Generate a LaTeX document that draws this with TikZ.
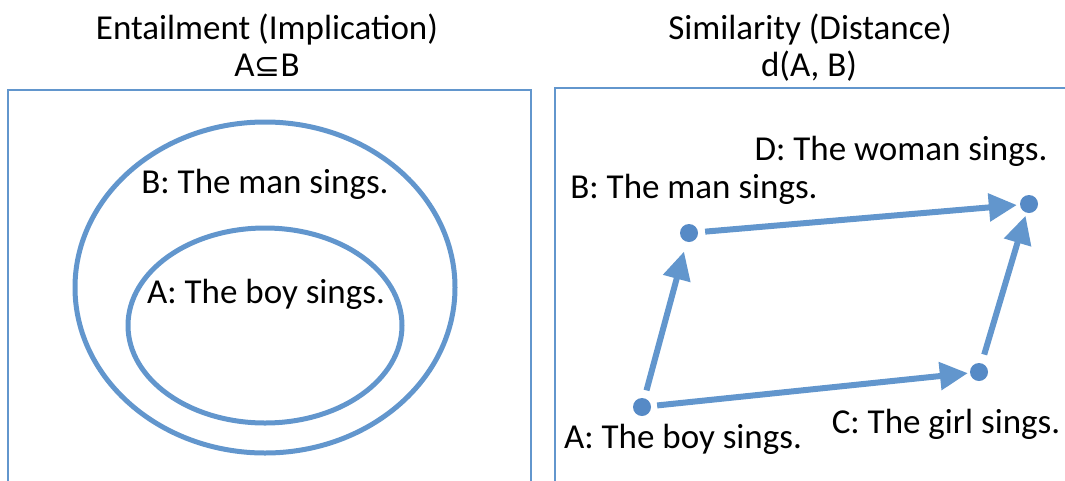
\documentclass[tikz,border=0pt]{standalone}
\usepackage{fontspec}
\setmainfont{Carlito}
\newfontfamily\dejavu{DejaVu Sans}
\usetikzlibrary{arrows.meta}
\definecolor{lineblue}{RGB}{98,150,205}
\definecolor{dotblue}{RGB}{86,138,198}
\tikzset{
  lbl/.style={anchor=base, inner sep=0pt, font=\fontsize{35}{42}\selectfont},
  frame/.style={draw=lineblue, line width=2pt},
  ring/.style={draw=lineblue, line width=5pt},
  dotnode/.style={circle, fill=dotblue, draw=none, minimum size=18pt, inner sep=0pt},
  vec/.style={draw=lineblue, line width=6pt, -{Triangle[length=28pt,width=27pt]}}
}
\begin{document}
\begin{tikzpicture}[x=1pt,y=-1pt]
\useasboundingbox (0,0) rectangle (1065,480);
% titles
\node[lbl] (t1) at (267,39) {Entailment (Implication)};
\node[lbl] (t1b) at (267,76) {A{\dejavu\fontsize{31}{40}\selectfont ⊆}B};
\node[lbl] (t2) at (810,39) {Similarity (Distance)};
\node[lbl] (t2b) at (809,76) {d(A, B)};
% frames
\draw[frame] (8,485) -- (8,90) -- (531,90) -- (531,485);
\draw[frame] (555,485) -- (555,88) -- (1075,88);
% left panel
\draw[ring] (265,287.5) ellipse [x radius=190, y radius=165.5];
\draw[ring] (265,325.5) ellipse [x radius=137, y radius=97.5];
\node[lbl] (lB) at (265,193) {B: The man sings.};
\node[lbl] (lA) at (266,303) {A: The boy sings.};
% right panel
\node[dotnode] (dA) at (642,407) {};
\node[dotnode] (dB) at (689,233) {};
\node[dotnode] (dC) at (979,372) {};
\node[dotnode] (dD) at (1029,204) {};
\draw[vec, shorten <=8pt, shorten >=10pt] (dA) -- (dB);
\draw[vec, shorten <=6pt, shorten >=2pt] (dA) -- (dC);
\draw[vec, shorten <=7pt, shorten >=3pt] (dB) -- (dD);
\draw[vec, shorten <=9pt, shorten >=3pt] (dC) -- (dD);
\node[lbl] (rD) at (901,160) {D: The woman sings.};
\node[lbl] (rB) at (694,198) {B: The man sings.};
\node[lbl] (rA) at (683,448) {A: The boy sings.};
\node[lbl] (rC) at (946,433) {C: The girl sings.};
\end{tikzpicture}
\end{document}
